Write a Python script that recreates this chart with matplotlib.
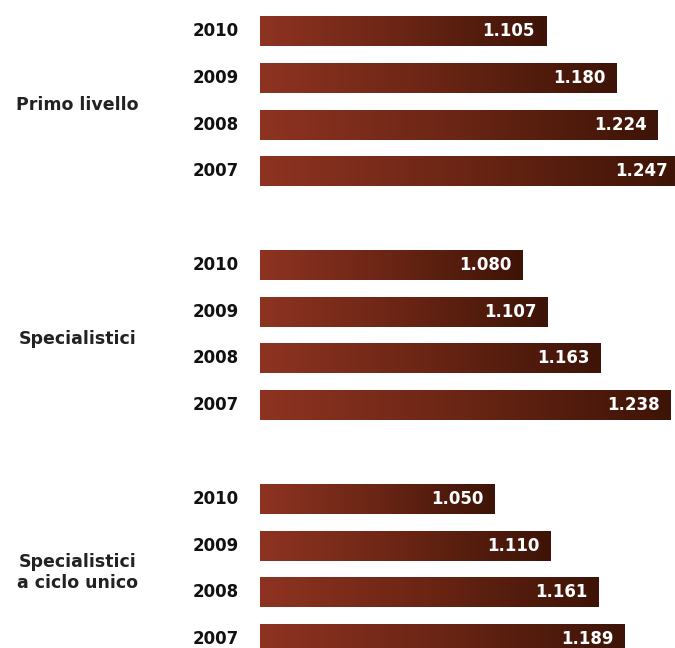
import numpy as np
import matplotlib
matplotlib.use('Agg')
import matplotlib.pyplot as plt
from matplotlib.colors import LinearSegmentedColormap

# data
groups = ["Primo livello", "Specialistici", "Specialistici\na ciclo unico"]
years = ["2010", "2009", "2008", "2007"]
primo = [1.105, 1.180, 1.224, 1.247]
specialistici = [1.080, 1.107, 1.163, 1.238]
ciclo_unico = [1.050, 1.110, 1.161, 1.189]
series = [primo, specialistici, ciclo_unico]

cmap = LinearSegmentedColormap.from_list("bar", ["#8e3322", "#6a2514", "#3d1407"])
grad = np.linspace(0, 1, 256).reshape(1, -1)

fig = plt.figure(figsize=(6.75, 6.48), dpi=100)
ax = fig.add_axes([260 / 675, 0, 415 / 675, 1])

x0 = 0.8
bar_h = 0.64
for g, vals in enumerate(series):
    for i, v in enumerate(vals):
        y = g * 5 + i
        ax.imshow(grad, cmap=cmap, aspect='auto', interpolation='bicubic',
                  extent=(x0, v, y + bar_h / 2, y - bar_h / 2))
        ax.annotate(f"{v:.3f}", xy=(v, y), xytext=(-8, 0), textcoords='offset points',
                    ha='right', va='center', color='white', fontsize=12,
                    fontweight='bold', annotation_clip=False)
        ax.text(-0.05, y, years[i], transform=ax.get_yaxis_transform(),
                ha='right', va='center', fontsize=12, fontweight='bold',
                color='#111111', clip_on=False)
    ax.text(-0.44, g * 5 + 1.58, groups[g], transform=ax.get_yaxis_transform(),
            ha='center', va='center', fontsize=12.5, fontweight='bold',
            color='#222222', linespacing=1.25, multialignment='center', clip_on=False)

ax.set_xlim(x0, 1.2425)
ax.set_ylim(13.19, -0.663)
ax.axis('off')

plt.savefig("out.png", dpi=100)
plt.close()
